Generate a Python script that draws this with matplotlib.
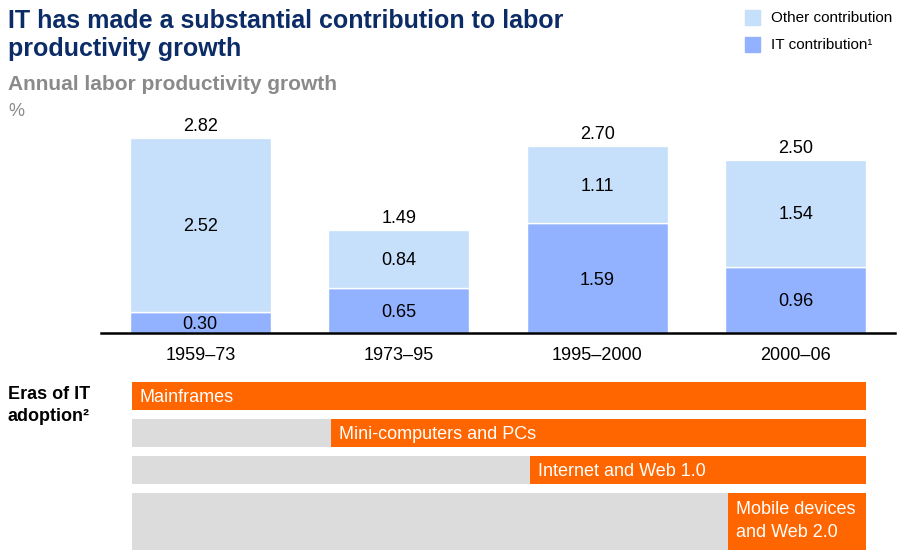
import matplotlib.pyplot as plt
import matplotlib.patches as patch

plt.rcParams["font.family"] = ["Liberation Sans", "DejaVu Sans"]

periods = ["1959–73", "1973–95", "1995–2000", "2000–06"]
it_contrib = [0.30, 0.65, 1.59, 0.96]
other_contrib = [2.52, 0.84, 1.11, 1.54]
totals = [2.82, 1.49, 2.70, 2.50]

eras = ["Mainframes", "Mini-computers and PCs", "Internet and Web 1.0",
        "Mobile devices\nand Web 2.0"]
era_start = [0, 1, 2, 3]  # index of the period where each era begins

col_other = "#c6dffa"
col_it = "#92b2ff"
col_orange = "#ff6600"
col_gray = "#dcdcdc"
col_title = "#0b2c66"
col_sub = "#8a8a8a"

W, H = 897, 550
fig = plt.figure(figsize=(W / 100, H / 100), dpi=100)


def px_axes(x0, y0, x1, y1):
    return fig.add_axes([x0 / W, 1 - y1 / H, (x1 - x0) / W, (y1 - y0) / H])


def ftext(x, y, s, **kw):
    fig.text(x / W, 1 - y / H, s, **kw)


# titles
ftext(8, 35, "IT has made a substantial contribution to labor\nproductivity growth",
      size=18, weight="bold", color=col_title, va="center", linespacing=1.22)
ftext(8, 85, "Annual labor productivity growth", size=15, weight="bold",
      color=col_sub, va="center")
ftext(8, 111, "%", size=13, color=col_sub, va="center")

# legend
fig.patches.append(patch.Rectangle((745 / W, 1 - 25 / H), 15 / W, 15 / H,
                                   color=col_other, transform=fig.transFigure))
fig.patches.append(patch.Rectangle((745 / W, 1 - 52 / H), 15 / W, 15 / H,
                                   color=col_it, transform=fig.transFigure))
ftext(771, 18, "Other contribution", size=11, va="center")
ftext(771, 45, "IT contribution¹", size=11, va="center")

# stacked bars
ax = px_axes(101, 120, 895, 333)
ax.set_xlim(-0.5, 3.5)
ax.set_ylim(0, (333 - 120) / 69.1)
ax.axis("off")
x = range(len(periods))
bw = 0.71
ax.bar(x, it_contrib, width=bw, color=col_it, edgecolor="white", lw=1)
ax.bar(x, other_contrib, bottom=it_contrib, width=bw, color=col_other,
       edgecolor="white", lw=1)
ax.axhline(0, color="black", lw=1.8, clip_on=False)
for i in x:
    ax.text(i, it_contrib[i] / 2 - 0.03, f"{it_contrib[i]:.2f}", ha="center",
            va="center", size=13)
    ax.text(i, it_contrib[i] + other_contrib[i] / 2 - 0.02,
            f"{other_contrib[i]:.2f}", ha="center", va="center", size=13)
    ax.text(i, totals[i] + 0.17, f"{totals[i]:.2f}", ha="center", va="center",
            size=13)
    ax.text(i, -0.32, periods[i], ha="center", va="center", size=13,
            clip_on=False)

# eras of IT adoption
ftext(8, 386, "Eras of IT\nadoption²", size=13, weight="bold", va="top",
      linespacing=1.4)
ex = px_axes(101, 382, 895, 550)
ex.set_xlim(-0.5, 3.5)
ex.set_ylim(168, 0)
ex.axis("off")
left_all = -0.345
right_all = 3.355
top = 0
for name, st in zip(eras, era_start):
    h = 28 * (name.count("\n") + 1) + (1 if "\n" in name else 0)
    ex.barh(top, right_all - left_all, left=left_all, height=h, align="edge",
            color=col_gray)
    lo = left_all if st == 0 else st - 0.34
    ex.barh(top, right_all - lo, left=lo, height=h, align="edge",
            color=col_orange)
    ex.text(lo + 0.04, top + h / 2 + 1.5 - (2 if "\n" in name else 0), name,
            color="white", size=13, va="center", linespacing=1.4)
    top += 37

fig.savefig("out.png", dpi=100)
